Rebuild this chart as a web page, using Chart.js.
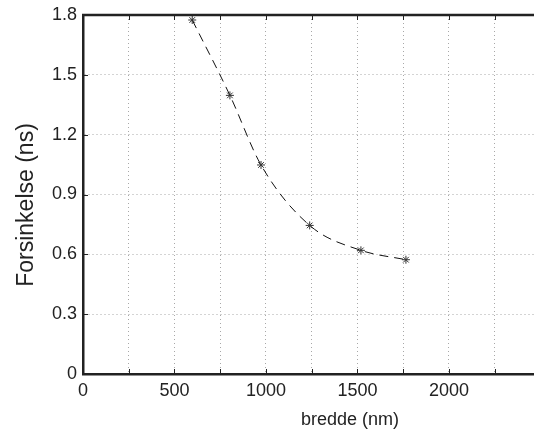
<!DOCTYPE html>
<html>
<head>
<meta charset="utf-8">
<script src="https://cdn.jsdelivr.net/npm/chart.js@4"></script>
<style>
  html, body { margin: 0; padding: 0; background: #fff; }
  #wrap { width: 534px; height: 434px; }
</style>
</head>
<body>
<div id="wrap"><canvas id="c"></canvas></div>
<script>
// data
const bredde = [597, 803, 973, 1239, 1519, 1765];
const forsinkelse = [1.775, 1.397, 1.048, 0.745, 0.62, 0.573];
const xGridTicks = [0, 250, 500, 750, 1000, 1250, 1500, 1750, 2000, 2250];
const xTickLabels = [0, 500, 1000, 1500, 2000];
const yTicks = [0, 0.3, 0.6, 0.9, 1.2, 1.5, 1.8];
const xTitle = 'bredde (nm)';
const yTitle = 'Forsinkelse (ns)';

const FONT = '"Liberation Sans", Arial, sans-serif';

// MATLAB-ish frame: inward tick marks, top border, axis titles
const framePlugin = {
  id: 'frame',
  afterDraw(chart) {
    const { ctx, chartArea: a, scales: { x, y } } = chart;
    ctx.save();
    ctx.strokeStyle = '#222';
    ctx.lineWidth = 1;
    ctx.beginPath();
    for (const v of xGridTicks) {
      const px = Math.round(x.getPixelForValue(v)) + 0.5;
      ctx.moveTo(px, a.bottom); ctx.lineTo(px, a.bottom - 5);
      ctx.moveTo(px, a.top); ctx.lineTo(px, a.top + 5);
    }
    for (const v of yTicks) {
      const py = Math.round(y.getPixelForValue(v)) + 0.5;
      ctx.moveTo(a.left, py); ctx.lineTo(a.left + 5, py);
    }
    ctx.stroke();

    ctx.lineWidth = 2.5;
    ctx.beginPath();
    ctx.moveTo(a.left - 1, a.top);
    ctx.lineTo(534, a.top);
    ctx.stroke();

    ctx.fillStyle = '#222';
    ctx.font = '18px ' + FONT;
    ctx.textAlign = 'center';
    ctx.textBaseline = 'middle';
    ctx.fillText(xTitle, 350, 420);

    ctx.translate(27, 205);
    ctx.rotate(-Math.PI / 2);
    ctx.font = '23px ' + FONT;
    ctx.fillText(yTitle, 0, 0);
    ctx.restore();
  }
};

new Chart(document.getElementById('c'), {
  type: 'line',
  data: {
    datasets: [{
      data: bredde.map((b, i) => ({ x: b, y: forsinkelse[i] })),
      borderColor: '#111',
      borderWidth: 1,
      borderDash: [9, 6],
      cubicInterpolationMode: 'monotone',
      pointStyle: 'star',
      pointRadius: 4,
      pointBorderColor: '#333',
      pointBorderWidth: 1,
      fill: false,
      clip: false,
    }]
  },
  options: {
    responsive: true,
    maintainAspectRatio: false,
    animation: false,
    events: [],
    layout: { autoPadding: false, padding: { top: 15, right: 0, left: 0, bottom: 0 } },
    plugins: { legend: { display: false }, tooltip: { enabled: false } },
    scales: {
      x: {
        type: 'linear',
        min: 0,
        max: 2465,
        afterBuildTicks: s => { s.ticks = xGridTicks.map(v => ({ value: v })); },
        afterFit: s => { s.height = 60; s.paddingRight = 0; s.paddingLeft = 0; },
        ticks: {
          autoSkip: false,
          maxRotation: 0,
          padding: 6,
          color: '#222',
          font: { family: FONT, size: 18 },
          callback: v => xTickLabels.includes(v) ? String(v) : ''
        },
        grid: { color: '#a8a8a8', lineWidth: 1, drawTicks: false },
        border: { display: true, color: '#222', width: 2.5, dash: [1, 3] }
      },
      y: {
        min: 0,
        max: 1.8,
        afterBuildTicks: s => { s.ticks = yTicks.map(v => ({ value: v })); },
        afterFit: s => { s.width = 83; s.paddingTop = 0; s.paddingBottom = 0; },
        ticks: {
          autoSkip: false,
          padding: 6,
          color: '#222',
          font: { family: FONT, size: 18 },
          callback: v => String(Math.round(v * 10) / 10)
        },
        grid: { color: '#a8a8a8', lineWidth: 1, drawTicks: false },
        border: { display: true, color: '#222', width: 2.5, dash: [1, 3] }
      }
    }
  },
  plugins: [framePlugin]
});
</script>
</body>
</html>
